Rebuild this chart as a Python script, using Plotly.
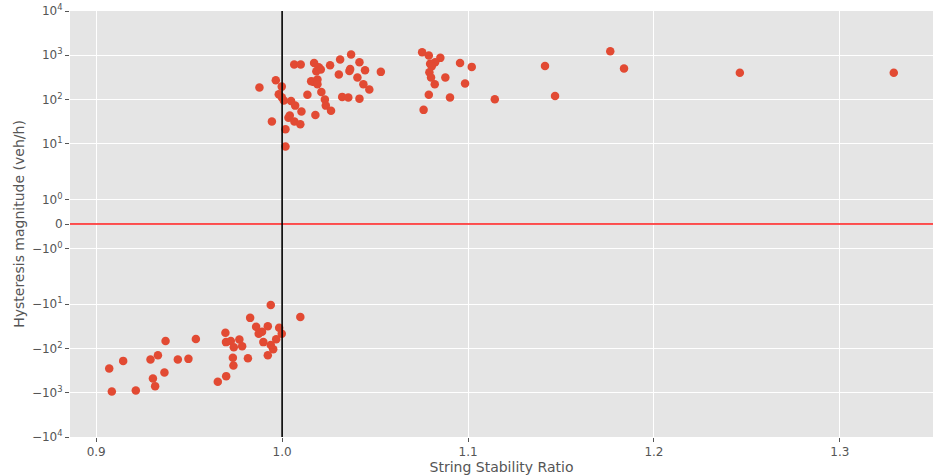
import numpy as np
import plotly.graph_objects as go

# String stability ratio (x) and hysteresis magnitude (y, veh/h)
ratio_pos = [0.9878, 0.9966, 0.9998, 0.9982, 0.9998, 1.0009, 0.9945, 1.0034, 1.0041, 1.0018,
             1.0018, 1.0048, 1.0070, 1.0104, 1.0066, 1.0098, 1.0065, 1.0100, 1.0136, 1.0172,
             1.0197, 1.0208, 1.0184, 1.0156, 1.0170, 1.0190, 1.0190, 1.0211, 1.0230, 1.0235,
             1.0179, 1.0263, 1.0258, 1.0312, 1.0371, 1.0416, 1.0305, 1.0362, 1.0366, 1.0405,
             1.0446, 1.0437, 1.0469, 1.0323, 1.0356, 1.0416, 1.0531,
             1.0753, 1.0789, 1.0851, 1.0823, 1.0796, 1.0805, 1.0792, 1.0801, 1.0821, 1.0878,
             1.0957, 1.1020, 1.0984, 1.0789, 1.0903, 1.0761, 1.1144, 1.1414, 1.1468, 1.1765,
             1.1839, 1.2462, 1.3290]
hyst_pos = [187, 273, 196, 132, 113, 95, 32, 39, 43.5, 21.4,
            8.7, 93, 73, 54, 32, 27.7, 617, 617, 128, 673,
            536, 475, 435, 259, 251, 283, 221, 149, 100, 73,
            45, 56, 595, 800, 1037, 695, 367, 444, 490, 314,
            459, 221, 168, 115, 111, 105, 422,
            1169, 984, 874, 695, 640, 565, 413, 314, 221, 314,
            673, 547, 230, 128, 111, 58.5, 102, 576, 121, 1231,
            501, 401, 401]

ratio_neg = [0.9070, 0.9084, 0.9145, 0.9213, 0.9292, 0.9332, 0.9373, 0.9305, 0.9317, 0.9367,
             0.9439, 0.9496, 0.9536, 0.9654, 0.9939, 1.0098, 0.9828, 0.9860, 0.9923, 0.9984,
             0.9998, 0.9892, 0.9874, 0.9968, 0.9899, 0.9695, 0.9698, 0.9724, 0.9770, 0.9740,
             0.9785, 0.9939, 0.9952, 0.9923, 0.9816, 0.9735, 0.9738, 0.9699]
hyst_neg = [-283, -935, -191, -887, -177, -142, -68, -475, -710, -348,
            -177, -172, -61, -567, -10.4, -19.6, -20.4, -32.5, -31.4, -34.3,
            -46.8, -42.2, -46.8, -61.7, -72, -44.5, -72, -68, -62.7, -93.5,
            -89, -84, -104, -142, -166, -163, -242, -422]

tick_values = [1e4, 1e3, 1e2, 1e1, 1, 0, -1, -1e1, -1e2, -1e3, -1e4]
tick_labels = ["10<sup>4</sup>", "10<sup>3</sup>", "10<sup>2</sup>", "10<sup>1</sup>", "10<sup>0</sup>", "0",
               "\u221210<sup>0</sup>", "\u221210<sup>1</sup>", "\u221210<sup>2</sup>",
               "\u221210<sup>3</sup>", "\u221210<sup>4</sup>"]
x_ticks = [0.9, 1.0, 1.1, 1.2, 1.3]
x_labels = ["0.9", "1.0", "1.1", "1.2", "1.3"]

# symmetric-log scale (linthresh=2, linscale=1, base 10)
LINTHRESH = 2.0
LINSCALE_ADJ = 1.0 / (1.0 - 1.0 / 10.0)


def symlog(v):
    a = np.asarray(v, dtype=float)
    absa = np.abs(a)
    logpart = np.sign(a) * LINTHRESH * (LINSCALE_ADJ + np.log10(np.maximum(absa, 1e-300) / LINTHRESH))
    return np.where(absa <= LINTHRESH, a * LINSCALE_ADJ, logpart)


ymax = float(symlog(1e4))
xs = ratio_pos + ratio_neg
ys = hyst_pos + hyst_neg
xmin, xmax = min(xs), max(xs)
pad = 0.05 * (xmax - xmin)
xr = [xmin - pad, xmax + pad]

fig = go.Figure()
fig.add_trace(go.Scatter(
    x=xs, y=symlog(ys), mode="markers",
    marker=dict(color="#E24A33", size=8.5, line=dict(width=0)),
    customdata=ys, hovertemplate="%{x}<br>%{customdata}<extra></extra>",
    showlegend=False))

fig.add_shape(type="line", xref="paper", yref="y", x0=0, x1=1, y0=0, y1=0,
              line=dict(color="#FF1A1A", width=1.6), layer="above")
fig.add_shape(type="line", xref="x", yref="paper", x0=1.0, x1=1.0, y0=0, y1=1,
              line=dict(color="black", width=1.6), layer="above")

font = "DejaVu Sans, sans-serif"
fig.update_layout(
    width=933, height=476,
    margin=dict(l=70, r=0, t=11, b=39),
    paper_bgcolor="white", plot_bgcolor="#E5E5E5",
    font=dict(family=font, color="#555555", size=12),
    xaxis=dict(range=xr, tickvals=x_ticks, ticktext=x_labels, showgrid=True, automargin=False,
               gridcolor="white", gridwidth=1, zeroline=False, showline=False,
               ticks="outside", ticklen=4, tickcolor="#555555", tickwidth=1,
               tickfont=dict(size=12, color="#555555"),
               title=dict(text="String Stability Ratio", font=dict(size=14, color="#555555"), standoff=2)),
    yaxis=dict(range=[-ymax, ymax], tickvals=list(symlog(tick_values)), ticktext=tick_labels,
               showgrid=True, gridcolor="white", gridwidth=1, zeroline=False, showline=False,
               automargin=False,
               ticks="outside", ticklen=4, tickcolor="#555555", tickwidth=1,
               tickfont=dict(size=12, color="#555555"),
               title=dict(text="Hysteresis magnitude (veh/h)", font=dict(size=14, color="#555555"), standoff=4)),
)

fig.write_html("out.html", config={"displayModeBar": False},
               post_script="document.body.style.margin='0';document.body.style.overflow='hidden';")
